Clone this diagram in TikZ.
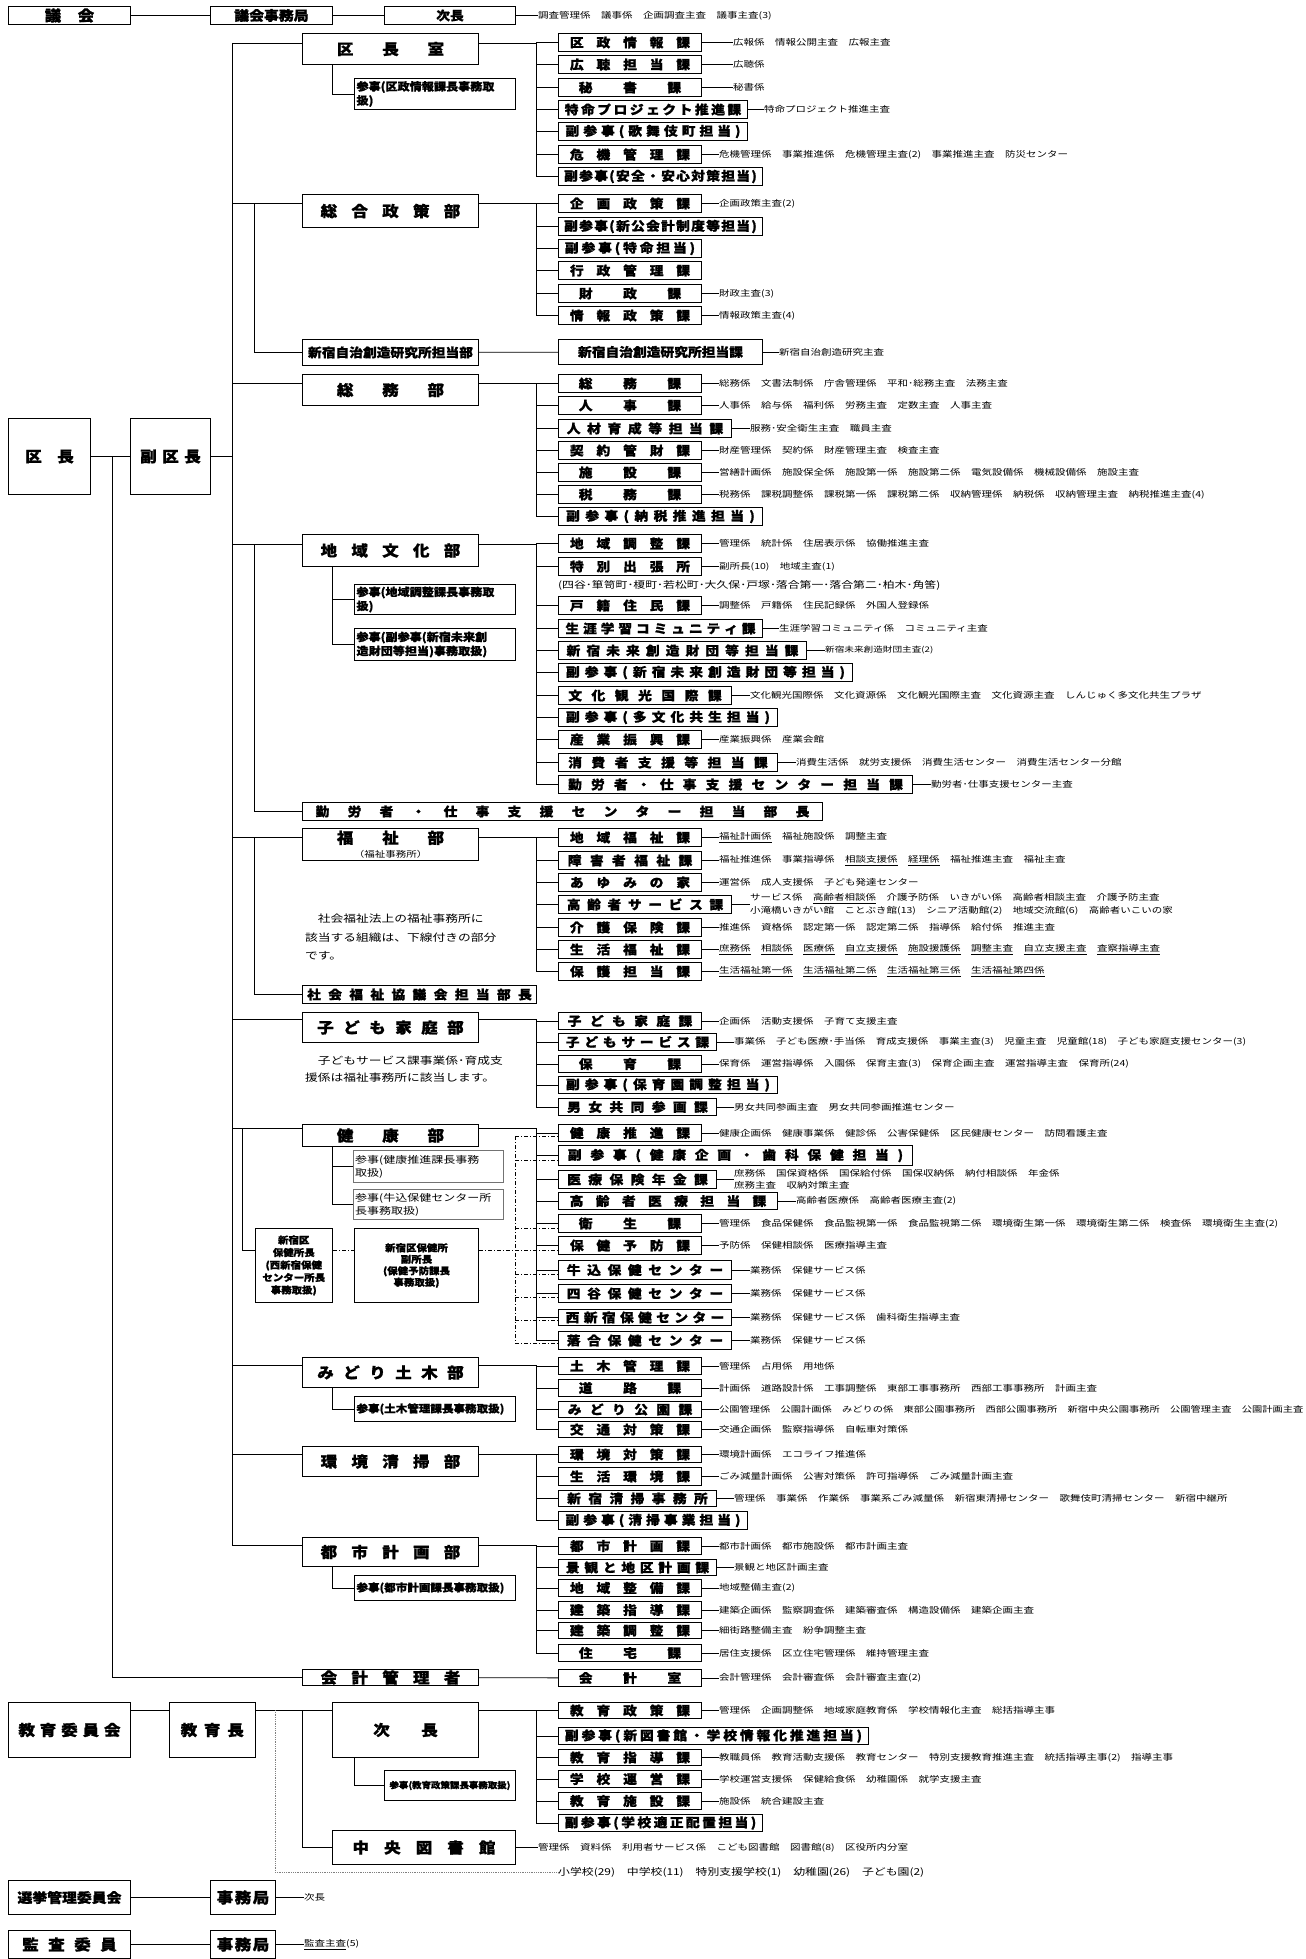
\documentclass[tikz,border=0pt]{standalone}
\usepackage{fontspec}
\setmainfont{Noto Sans CJK JP}[FakeStretch=1.25]
\newfontfamily\bfam{Noto Sans CJK JP}[FakeStretch=1.1, BoldFeatures={FakeBold=1.2}]
\usetikzlibrary{positioning}
\makeatletter
\newcommand\sprd[1]{\@tfor\sp@c:=#1\do{\hfil\sp@c\hfil}}
\makeatother
\newcommand\spr[2]{\hbox to #1pt{\sprd{#2}}}
\newcommand\fb[2]{\bfam\fontsize{#1}{#2}\selectfont\bfseries}
\newcommand\ls{\fontsize{8.4}{12.5}\selectfont}

\tikzset{
  ln/.style={line width=.8pt},
  bx/.style={draw, line width=1pt, anchor=north west, inner sep=0pt},
  sec/.style={bx, minimum width=143pt, minimum height=18pt, font=\fb{12.5}{13}},
  dept/.style={bx, minimum width=176pt, font=\fb{15}{16}},
  sanji/.style={bx, inner sep=2pt, text width=157pt, align=left, font=\fb{11}{14}},
  sanjig/.style={bx, draw=black!55, line width=1.4pt, inner sep=2pt, text width=146pt, align=left, font=\fontsize{9.6}{13}\selectfont},
  lst/.style={inner sep=0pt, font=\ls, align=left},
  dd/.style={line width=.7pt, dash pattern=on 4pt off 2pt on 1pt off 2pt},
}

\begin{document}
\begin{tikzpicture}[x=1pt,y=-1pt]
\useasboundingbox (0,0) rectangle (1306,1959);

% top row
\node[bx, minimum width=122pt, minimum height=18pt, font=\fb{15}{16}] (gikai) at (8,6) {\spr{66}{議会}};
\node[bx, minimum width=122pt, minimum height=18pt, font=\fb{13.5}{14}] (gjim) at (210,6) {議会事務局};
\node[bx, minimum width=131pt, minimum height=18pt, font=\fb{12.5}{13}] (gjicho) at (384,6) {次長};
\node[lst, right=22pt of gjicho] (gtxt) {調査管理係　議事係　企画調査主査　議事主査(3)};
\draw[ln] (gikai) -- (gjim) -- (gjicho) -- (gtxt);

% kucho, fukukucho
\node[bx, minimum width=82pt, minimum height=76pt, font=\fb{15}{16}] (kucho) at (8,418) {\spr{64}{区長}};
\node[bx, minimum width=80pt, minimum height=76pt, font=\fb{15}{16}] (fkucho) at (130,418) {\spr{66}{副区長}};
\coordinate (mtop) at (232,43);
\coordinate (mbot) at (232,1545);
\coordinate (kv) at (112,0);
\coordinate (vA) at (332,0);
\draw[ln] (kucho) -- (fkucho);
\draw[ln] (fkucho.east) -- (fkucho.east -| mtop);
\draw[ln] (mtop) -- (mbot);

% kuchoshitsu
\node[dept, minimum height=31pt] (dA) at (302,33) {\spr{136}{区長室}};
\node[sanji, minimum height=31pt] (sA) at (354,78) {参事(区政情報課長事務取\\扱)};
\node[sec] (kA1) at (558,33) {\spr{133}{区政情報課}};
\node[sec] (kA2) at (558,55) {\spr{133}{広聴担当課}};
\node[sec] (kA3) at (558,78) {\spr{133}{秘書課}};
\node[sec, minimum width=189pt] (kA4) at (558,100) {\spr{179}{特命プロジェクト推進課}};
\node[sec, minimum width=189pt] (kA5) at (558,122) {\spr{179}{副参事(歌舞伎町担当)}};
\node[sec] (kA6) at (558,145) {\spr{133}{危機管理課}};
\node[sec, minimum width=204pt] (kA7) at (558,167) {\spr{194}{副参事(安全・安心対策担当)}};
\node[lst, right=31pt of kA1] (tA1) {広報係　情報公開主査　広報主査};
\node[lst, right=31pt of kA2] (tA2) {広聴係};
\node[lst, right=31pt of kA3] (tA3) {秘書係};
\node[lst, right=16pt of kA4] (tA4) {特命プロジェクト推進主査};
\node[lst, right=17pt of kA6] (tA6) {危機管理係　事業推進係　危機管理主査(2)　事業推進主査　防災センター};
\coordinate (bA) at (536,43);
\draw[ln] (mtop) -- (dA.west |- mtop);
\draw[ln] (dA.east |- bA) -- (bA) |- (kA7.west);
\foreach \n in {1,...,6} \draw[ln] (bA |- kA\n.west) -- (kA\n.west);
\foreach \n in {1,2,3,4,6} \draw[ln] (kA\n) -- (tA\n);
\draw[ln] (dA.south -| vA) |- (sA.west);

% sogo seisaku
\node[dept, minimum height=33pt] (dB) at (302,194) {\spr{154}{総合政策部}};
\node[sec] (kB1) at (558,194) {\spr{133}{企画政策課}};
\node[sec, minimum width=204pt] (kB2) at (558,217) {\spr{194}{副参事(新公会計制度等担当)}};
\node[sec] (kB3) at (558,239) {\spr{133}{副参事(特命担当)}};
\node[sec] (kB4) at (558,261) {\spr{133}{行政管理課}};
\node[sec] (kB5) at (558,284) {\spr{133}{財政課}};
\node[sec] (kB6) at (558,306) {\spr{133}{情報政策課}};
\node[lst, right=17pt of kB1] (tB1) {企画政策主査(2)};
\node[lst, right=17pt of kB5] (tB5) {財政主査(3)};
\node[lst, right=17pt of kB6] (tB6) {情報政策主査(4)};
\coordinate (bB) at (536,203);
\coordinate (vB) at (254,203);
\draw[ln] (mtop |- bB) -- (dB.west |- bB);
\draw[ln] (dB.east |- bB) -- (bB) |- (kB6.west);
\foreach \n in {1,...,5} \draw[ln] (bB |- kB\n.west) -- (kB\n.west);
\foreach \n in {1,5,6} \draw[ln] (kB\n) -- (tB\n);

% kenkyujo
\node[dept, minimum height=26pt, font=\fb{12.5}{13}] (dC) at (302,339) {新宿自治創造研究所担当部};
\node[sec, minimum width=204pt, minimum height=25pt] (kC1) at (558,339) {新宿自治創造研究所担当課};
\node[lst, right=16pt of kC1] (tC1) {新宿自治創造研究主査};
\draw[ln] (vB) |- (dC.west);
\draw[ln] (dC) -- (kC1);
\draw[ln] (kC1) -- (tC1);

% somu
\node[dept, minimum height=31pt] (dD) at (302,374) {\spr{136}{総務部}};
\node[sec] (kD1) at (558,374) {\spr{133}{総務課}};
\node[sec] (kD2) at (558,396) {\spr{133}{人事課}};
\node[sec, minimum width=173pt] (kD3) at (558,419) {\spr{163}{人材育成等担当課}};
\node[sec] (kD4) at (558,441) {\spr{133}{契約管財課}};
\node[sec] (kD5) at (558,463) {\spr{133}{施設課}};
\node[sec] (kD6) at (558,485) {\spr{133}{税務課}};
\node[sec, minimum width=204pt] (kD7) at (558,507) {\spr{194}{副参事(納税推進担当)}};
\node[lst, right=17pt of kD1] (tD1) {総務係　文書法制係　庁舎管理係　平和･総務主査　法務主査};
\node[lst, right=17pt of kD2] (tD2) {人事係　給与係　福利係　労務主査　定数主査　人事主査};
\node[lst, right=18pt of kD3] (tD3) {服務･安全衛生主査　職員主査};
\node[lst, right=17pt of kD4] (tD4) {財産管理係　契約係　財産管理主査　検査主査};
\node[lst, right=17pt of kD5] (tD5) {営繕計画係　施設保全係　施設第一係　施設第二係　電気設備係　機械設備係　施設主査};
\node[lst, right=17pt of kD6] (tD6) {税務係　課税調整係　課税第一係　課税第二係　収納管理係　納税係　収納管理主査　納税推進主査(4)};
\coordinate (bD) at (536,383);
\draw[ln] (mtop |- bD) -- (dD.west |- bD);
\draw[ln] (dD.east |- bD) -- (bD) |- (kD7.west);
\foreach \n in {1,...,6} \draw[ln] (bD |- kD\n.west) -- (kD\n.west);
\foreach \n in {1,...,6} \draw[ln] (kD\n) -- (tD\n);

% chiiki bunka
\node[dept, minimum height=32pt] (dE) at (302,534) {\spr{154}{地域文化部}};
\node[sanji, minimum height=30pt] (sE1) at (354,584) {参事(地域調整課長事務取\\扱)};
\node[sanji, minimum height=32pt] (sE2) at (354,628) {参事(副参事(新宿未来創\\造財団等担当)事務取扱)};
\node[sec] (kE1) at (558,534) {\spr{133}{地域調整課}};
\node[sec] (kE2) at (558,557) {\spr{133}{特別出張所}};
\node[sec] (kE3) at (558,596) {\spr{133}{戸籍住民課}};
\node[sec, minimum width=204pt] (kE4) at (558,619) {\spr{194}{生涯学習コミュニティ課}};
\node[sec, minimum width=248pt] (kE5) at (558,641) {\spr{238}{新宿未来創造財団等担当課}};
\node[sec, minimum width=294pt] (kE6) at (558,663) {\spr{284}{副参事(新宿未来創造財団等担当)}};
\node[sec, minimum width=173pt] (kE7) at (558,686) {\spr{163}{文化観光国際課}};
\node[sec, minimum width=219pt] (kE8) at (558,708) {\spr{209}{副参事(多文化共生担当)}};
\node[sec] (kE9) at (558,730) {\spr{133}{産業振興課}};
\node[sec, minimum width=219pt] (kE10) at (558,753) {\spr{209}{消費者支援等担当課}};
\node[sec, minimum width=354pt] (kE11) at (558,775) {\spr{344}{勤労者・仕事支援センター担当課}};
\node[lst, right=17pt of kE1] (tE1) {管理係　統計係　住居表示係　協働推進主査};
\node[lst, right=17pt of kE2] (tE2) {副所長(10)　地域主査(1)};
\node[lst, anchor=west, font=\fontsize{9.5}{11}\selectfont] (tE2x) at (558,585) {(四谷･箪笥町･榎町･若松町･大久保･戸塚･落合第一･落合第二･柏木･角筈)};
\node[lst, right=17pt of kE3] (tE3) {調整係　戸籍係　住民記録係　外国人登録係};
\node[lst, right=16pt of kE4] (tE4) {生涯学習コミュニティ係　コミュニティ主査};
\node[lst, right=18pt of kE5, font=\fontsize{7.7}{9}\selectfont] (tE5) {新宿未来創造財団主査(2)};
\node[lst, right=18pt of kE7] (tE7) {文化観光国際係　文化資源係　文化観光国際主査　文化資源主査　しんじゅく多文化共生プラザ};
\node[lst, right=17pt of kE9] (tE9) {産業振興係　産業会館};
\node[lst, right=18pt of kE10] (tE10) {消費生活係　就労支援係　消費生活センター　消費生活センター分館};
\node[lst, right=18pt of kE11] (tE11) {勤労者･仕事支援センター主査};
\node[bx, minimum width=520pt, minimum height=18pt, font=\fb{12.5}{13}] (dF) at (302,802) {\spr{512}{勤労者・仕事支援センター担当部長}};
\coordinate (bE) at (536,544);
\coordinate (vE) at (254,544);
\draw[ln] (mtop |- bE) -- (dE.west |- bE);
\draw[ln] (dE.east |- bE) -- (bE) |- (kE11.west);
\foreach \n in {1,...,10} \draw[ln] (bE |- kE\n.west) -- (kE\n.west);
\foreach \n in {1,2,3,4,5,7,9,10,11} \draw[ln] (kE\n) -- (tE\n);
\draw[ln] (dE.south -| vA) |- (sE2.west);
\draw[ln] (sE1.west -| vA) -- (sE1.west);
\draw[ln] (vE) |- (dF.west);

% fukushi
\node[dept, minimum height=32pt, align=center] (dG) at (302,828) {\spr{136}{福祉部}\\[-2pt]{\ls\rmfamily\mdseries （福祉事務所）}};
\node[anchor=north west, inner sep=0pt, align=left, font=\fontsize{10.2}{18.5}\selectfont] (nG) at (305,914) {　社会福祉法上の福祉事務所に\\該当する組織は、下線付きの部分\\です。};
\node[sec] (kG1) at (558,828) {\spr{133}{地域福祉課}};
\node[sec] (kG2) at (558,851) {\spr{133}{障害者福祉課}};
\node[sec] (kG3) at (558,873) {\spr{133}{あゆみの家}};
\node[sec, minimum width=173pt] (kG4) at (558,895) {\spr{163}{高齢者サービス課}};
\node[sec] (kG5) at (558,918) {\spr{133}{介護保険課}};
\node[sec] (kG6) at (558,940) {\spr{133}{生活福祉課}};
\node[sec] (kG7) at (558,962) {\spr{133}{保護担当課}};
\node[lst, right=17pt of kG1] (tG1) {\underline{福祉計画係}　福祉施設係　調整主査};
\node[lst, right=17pt of kG2] (tG2) {福祉推進係　事業指導係　\underline{相談支援係}　\underline{経理係}　福祉推進主査　福祉主査};
\node[lst, right=17pt of kG3] (tG3) {運営係　成人支援係　子ども発達センター};
\node[lst, right=18pt of kG4] (tG4) {サービス係　\underline{高齢者相談係}　介護予防係　いきがい係　高齢者相談主査　介護予防主査\\小滝橋いきがい館　ことぶき館(13)　シニア活動館(2)　地域交流館(6)　高齢者いこいの家};
\node[lst, right=17pt of kG5] (tG5) {推進係　資格係　認定第一係　認定第二係　指導係　給付係　推進主査};
\node[lst, right=17pt of kG6] (tG6) {\underline{庶務係}　\underline{相談係}　\underline{医療係}　\underline{自立支援係}　\underline{施設援護係}　\underline{調整主査}　\underline{自立支援主査}　\underline{査察指導主査}};
\node[lst, right=17pt of kG7] (tG7) {\underline{生活福祉第一係}　\underline{生活福祉第二係}　\underline{生活福祉第三係}　\underline{生活福祉第四係}};
\node[bx, minimum width=234pt, minimum height=18pt, font=\fb{12.5}{13}] (dH) at (302,985) {\spr{232}{社会福祉協議会担当部長}};
\coordinate (bG) at (536,837);
\coordinate (vG) at (254,837);
\draw[ln] (mtop |- bG) -- (dG.west |- bG);
\draw[ln] (dG.east |- bG) -- (bG) |- (kG7.west);
\foreach \n in {1,...,6} \draw[ln] (bG |- kG\n.west) -- (kG\n.west);
\foreach \n in {1,...,7} \draw[ln] (kG\n) -- (tG\n);
\draw[ln] (vG) |- (dH.west);

% kodomo katei
\node[dept, minimum height=30pt] (dI) at (302,1012) {\spr{156}{子ども家庭部}};
\node[anchor=north west, inner sep=0pt, align=left, font=\fontsize{10.2}{17}\selectfont] (nI) at (305,1056) {　子どもサービス課事業係･育成支\\援係は福祉事務所に該当します。};
\node[sec, minimum height=17pt] (kI1) at (558,1012) {\spr{133}{子ども家庭課}};
\node[sec, minimum height=17pt, minimum width=158pt] (kI2) at (558,1033) {\spr{148}{子どもサービス課}};
\node[sec, minimum height=17pt] (kI3) at (558,1055) {\spr{133}{保育課}};
\node[sec, minimum height=17pt, minimum width=219pt] (kI4) at (558,1076) {\spr{209}{副参事(保育園調整担当)}};
\node[sec, minimum height=17pt, minimum width=158pt] (kI5) at (558,1098) {\spr{148}{男女共同参画課}};
\node[lst, right=17pt of kI1] (tI1) {企画係　活動支援係　子育て支援主査};
\node[lst, right=17pt of kI2] (tI2) {事業係　子ども医療･手当係　育成支援係　事業主査(3)　児童主査　児童館(18)　子ども家庭支援センター(3)};
\node[lst, right=17pt of kI3] (tI3) {保育係　運営指導係　入園係　保育主査(3)　保育企画主査　運営指導主査　保育所(24)};
\node[lst, right=17pt of kI5] (tI5) {男女共同参画主査　男女共同参画推進センター};
\coordinate (bI) at (536,1019);
\draw[ln] (mtop |- bI) -- (dI.west |- bI);
\draw[ln] (dI.east |- bI) -- (bI) |- (kI5.west);
\foreach \n in {1,...,4} \draw[ln] (bI |- kI\n.west) -- (kI\n.west);
\foreach \n in {1,2,3,5} \draw[ln] (kI\n) -- (tI\n);

% kenko
\node[dept, minimum height=22pt] (dJ) at (302,1124) {\spr{136}{健康部}};
\node[sanjig, minimum height=32pt] (sJ1) at (352.5,1150) {参事(健康推進課長事務\\取扱)};
\node[sanjig, minimum height=30pt] (sJ2) at (352.5,1189) {参事(牛込保健センター所\\長事務取扱)};
\node[bx, minimum width=77.5pt, minimum height=74pt, align=center, font=\fb{9.5}{12.5}] (hokencho) at (254.5,1228) {新宿区\\保健所長\\(西新宿保健\\センター所長\\事務取扱)};
\node[bx, minimum width=124pt, minimum height=74pt, align=center, font=\fb{9.5}{11.5}] (hokenfuku) at (354,1228) {新宿区保健所\\副所長\\(保健予防課長\\事務取扱)};
\node[sec, minimum height=17pt] (kJ1) at (558,1124) {\spr{133}{健康推進課}};
\node[sec, minimum height=20pt, minimum width=354pt] (kJ2) at (558,1145) {\spr{344}{副参事(健康企画・歯科保健担当)}};
\node[sec, minimum width=158pt] (kJ3) at (558,1170) {\spr{148}{医療保険年金課}};
\node[sec, minimum height=17pt, minimum width=219pt] (kJ4) at (558,1192) {\spr{209}{高齢者医療担当課}};
\node[sec] (kJ5) at (558,1214) {\spr{133}{衛生課}};
\node[sec] (kJ6) at (558,1236) {\spr{133}{保健予防課}};
\node[sec, minimum height=19pt, minimum width=173pt] (kJ7) at (558,1260) {\spr{163}{牛込保健センター}};
\node[sec, minimum width=173pt] (kJ8) at (558,1284) {\spr{163}{四谷保健センター}};
\node[sec, minimum height=16pt, minimum width=173pt] (kJ9) at (558,1309) {\spr{163}{西新宿保健センター}};
\node[sec, minimum width=173pt] (kJ10) at (558,1331) {\spr{163}{落合保健センター}};
\node[lst, right=17pt of kJ1] (tJ1) {健康企画係　健康事業係　健診係　公害保健係　区民健康センター　訪問看護主査};
\node[lst, right=17pt of kJ3, font=\fontsize{8.4}{12}\selectfont] (tJ3) {庶務係　国保資格係　国保給付係　国保収納係　納付相談係　年金係\\庶務主査　収納対策主査};
\node[lst, right=18pt of kJ4] (tJ4) {高齢者医療係　高齢者医療主査(2)};
\node[lst, right=17pt of kJ5] (tJ5) {管理係　食品保健係　食品監視第一係　食品監視第二係　環境衛生第一係　環境衛生第二係　検査係　環境衛生主査(2)};
\node[lst, right=17pt of kJ6] (tJ6) {予防係　保健相談係　医療指導主査};
\node[lst, right=18pt of kJ7] (tJ7) {業務係　保健サービス係};
\node[lst, right=18pt of kJ8] (tJ8) {業務係　保健サービス係};
\node[lst, right=18pt of kJ9] (tJ9) {業務係　保健サービス係　歯科衛生指導主査};
\node[lst, right=18pt of kJ10] (tJ10) {業務係　保健サービス係};
\coordinate (bJ) at (536,1128);
\coordinate (vJ) at (242.5,1128);
\draw[ln] (mtop |- bJ) -- (dJ.west |- bJ);
\draw[ln] (dJ.east |- bJ) -- (bJ) |- (kJ10.west);
\foreach \n in {1,...,9} \draw[ln] (bJ |- kJ\n.west) -- (kJ\n.west);
\foreach \n in {1,3,4,5,6,7,8,9,10} \draw[ln] (kJ\n) -- (tJ\n);
\draw[ln] (dJ.south -| vA) |- (sJ2.west);
\draw[ln] (sJ1.west -| vA) -- (sJ1.west);
\foreach \n/\y in {1/1136,2/1160,5/1228,6/1250,7/1274,8/1297,9/1320,10/1343} \coordinate (dt\n) at (515,\y);
\draw[dd] (dt1) -- (dt10);
\foreach \n in {1,2,5,6,7,8,9,10} \draw[dd] (dt\n) -- (dt\n -| kJ\n.west);
\draw[dd] (hokencho.east |- dt6) -- (hokenfuku.west |- dt6);
\draw[dd] (hokenfuku.east |- dt6) -- (dt6);
\draw[ln] (vJ) |- (hokencho.west |- dt6);

% midori doboku
\node[dept, minimum height=30pt] (dK) at (302,1357) {\spr{156}{みどり土木部}};
\node[sanji, minimum height=25pt, font=\fb{10.5}{12}] (sK) at (354,1396) {参事(土木管理課長事務取扱)};
\node[sec, minimum height=17pt] (kK1) at (558,1357) {\spr{133}{土木管理課}};
\node[sec, minimum height=17pt] (kK2) at (558,1379) {\spr{133}{道路課}};
\node[sec, minimum height=16pt] (kK3) at (558,1401) {\spr{133}{みどり公園課}};
\node[sec, minimum height=16pt] (kK4) at (558,1421) {\spr{133}{交通対策課}};
\node[lst, right=17pt of kK1] (tK1) {管理係　占用係　用地係};
\node[lst, right=17pt of kK2] (tK2) {計画係　道路設計係　工事調整係　東部工事事務所　西部工事事務所　計画主査};
\node[lst, right=17pt of kK3, font=\fontsize{8.2}{10}\selectfont] (tK3) {公園管理係　公園計画係　みどりの係　東部公園事務所　西部公園事務所　新宿中央公園事務所　公園管理主査　公園計画主査};
\node[lst, right=17pt of kK4] (tK4) {交通企画係　監察指導係　自転車対策係};
\coordinate (bK) at (536,1365);
\draw[ln] (mtop |- bK) -- (dK.west |- bK);
\draw[ln] (dK.east |- bK) -- (bK) |- (kK4.west);
\foreach \n in {1,...,3} \draw[ln] (bK |- kK\n.west) -- (kK\n.west);
\foreach \n in {1,...,4} \draw[ln] (kK\n) -- (tK\n);
\draw[ln] (dK.south -| vA) |- (sK.west);

% kankyo seiso
\node[dept, minimum height=30pt] (dL) at (302,1446) {\spr{154}{環境清掃部}};
\node[sec, minimum height=16pt] (kL1) at (558,1446) {\spr{133}{環境対策課}};
\node[sec] (kL2) at (558,1467) {\spr{133}{生活環境課}};
\node[sec, minimum height=16pt, minimum width=158pt] (kL3) at (558,1490) {\spr{148}{新宿清掃事務所}};
\node[sec, minimum width=189pt] (kL4) at (558,1511) {\spr{179}{副参事(清掃事業担当)}};
\node[lst, right=17pt of kL1] (tL1) {環境計画係　エコライフ推進係};
\node[lst, right=17pt of kL2] (tL2) {ごみ減量計画係　公害対策係　許可指導係　ごみ減量計画主査};
\node[lst, right=17pt of kL3] (tL3) {管理係　事業係　作業係　事業系ごみ減量係　新宿東清掃センター　歌舞伎町清掃センター　新宿中継所};
\coordinate (bL) at (536,1454);
\draw[ln] (mtop |- bL) -- (dL.west |- bL);
\draw[ln] (dL.east |- bL) -- (bL) |- (kL4.west);
\foreach \n in {1,...,3} \draw[ln] (bL |- kL\n.west) -- (kL\n.west);
\foreach \n in {1,...,3} \draw[ln] (kL\n) -- (tL\n);

% toshi keikaku
\node[dept, minimum height=29pt] (dM) at (302,1537) {\spr{154}{都市計画部}};
\node[sanji, minimum height=25pt, font=\fb{10.5}{12}] (sM) at (354,1575) {参事(都市計画課長事務取扱)};
\node[sec, minimum height=17pt] (kM1) at (558,1537) {\spr{133}{都市計画課}};
\node[sec, minimum height=16pt, minimum width=158pt] (kM2) at (558,1559) {\spr{148}{景観と地区計画課}};
\node[sec, minimum height=17pt] (kM3) at (558,1579) {\spr{133}{地域整備課}};
\node[sec, minimum height=17pt] (kM4) at (558,1601) {\spr{133}{建築指導課}};
\node[sec, minimum height=16pt] (kM5) at (558,1622) {\spr{133}{建築調整課}};
\node[sec, minimum height=17pt] (kM6) at (558,1644) {\spr{133}{住宅課}};
\node[lst, right=17pt of kM1] (tM1) {都市計画係　都市施設係　都市計画主査};
\node[lst, right=17pt of kM2] (tM2) {景観と地区計画主査};
\node[lst, right=17pt of kM3] (tM3) {地域整備主査(2)};
\node[lst, right=17pt of kM4] (tM4) {建築企画係　監察調査係　建築審査係　構造設備係　建築企画主査};
\node[lst, right=17pt of kM5] (tM5) {細街路整備主査　紛争調整主査};
\node[lst, right=17pt of kM6] (tM6) {居住支援係　区立住宅管理係　維持管理主査};
\coordinate (bM) at (536,1545);
\draw[ln] (mbot) -- (dM.west |- mbot);
\draw[ln] (dM.east |- bM) -- (bM) |- (kM6.west);
\foreach \n in {1,...,5} \draw[ln] (bM |- kM\n.west) -- (kM\n.west);
\foreach \n in {1,...,6} \draw[ln] (kM\n) -- (tM\n);
\draw[ln] (dM.south -| vA) |- (sM.west);

% kaikei
\node[dept, minimum height=16pt] (dN) at (302,1669) {\spr{154}{会計管理者}};
\node[sec, minimum height=17pt] (kN1) at (558,1669) {\spr{133}{会計室}};
\node[lst, right=17pt of kN1] (tN1) {会計管理係　会計審査係　会計審査主査(2)};
\draw[ln] (kucho.east -| kv) |- (dN.west);
\draw[ln] (dN) -- (kN1);
\draw[ln] (kN1) -- (tN1);

% kyoiku
\node[bx, minimum width=122pt, minimum height=55pt, font=\fb{15}{16}] (kyoi) at (8,1702) {\spr{107}{教育委員会}};
\node[bx, minimum width=85.5pt, minimum height=55pt, font=\fb{15}{16}] (kyocho) at (169,1702) {\spr{70}{教育長}};
\node[bx, minimum width=146pt, minimum height=55pt, font=\fb{15}{16}] (jichoE) at (332,1702) {\spr{96}{次長}};
\node[bx, minimum width=131pt, minimum height=30pt, font=\fb{8.6}{10}] (sO) at (384,1770) {参事(教育政策課長事務取扱)};
\node[bx, minimum width=183pt, minimum height=34pt, font=\fb{15}{16}] (lib) at (332,1830) {\spr{158}{中央図書館}};
\node[lst, right=22pt of lib] (tLib) {管理係　資料係　利用者サービス係　こども図書館　図書館(8)　区役所内分室};
\node[lst, anchor=west, font=\fontsize{9.5}{11}\selectfont] (tSch) at (558,1872) {小学校(29)　中学校(11)　特別支援学校(1)　幼稚園(26)　子ども園(2)};
\node[sec, minimum height=16pt] (kO1) at (558,1702) {\spr{133}{教育政策課}};
\node[sec, minimum height=17pt, minimum width=310pt] (kO2) at (558,1727) {\spr{300}{副参事(新図書館・学校情報化推進担当)}};
\node[sec, minimum height=16pt] (kO3) at (558,1749) {\spr{133}{教育指導課}};
\node[sec, minimum height=17pt] (kO4) at (558,1770) {\spr{133}{学校運営課}};
\node[sec, minimum height=17pt] (kO5) at (558,1792) {\spr{133}{教育施設課}};
\node[sec, minimum height=17pt, minimum width=204pt] (kO6) at (558,1814) {\spr{194}{副参事(学校適正配置担当)}};
\node[lst, right=17pt of kO1] (tO1) {管理係　企画調整係　地域家庭教育係　学校情報化主査　総括指導主事};
\node[lst, right=17pt of kO3] (tO3) {教職員係　教育活動支援係　教育センター　特別支援教育推進主査　統括指導主事(2)　指導主事};
\node[lst, right=17pt of kO4] (tO4) {学校運営支援係　保健給食係　幼稚園係　就学支援主査};
\node[lst, right=17pt of kO5] (tO5) {施設係　統合建設主査};
\coordinate (eL) at (302,1710);
\coordinate (eD) at (275,1710);
\coordinate (bO) at (536,1710);
\coordinate (vO) at (354,0);
\draw[ln] (kyoi.east |- eL) -- (kyocho.west |- eL);
\draw[ln] (kyocho.east |- eL) -- (jichoE.west |- eL);
\draw[ln] (eL) |- (lib.west);
\draw[ln] (jichoE.east |- bO) -- (bO) |- (kO6.west);
\foreach \n in {1,...,5} \draw[ln] (bO |- kO\n.west) -- (kO\n.west);
\foreach \n in {1,3,4,5} \draw[ln] (kO\n) -- (tO\n);
\draw[ln] (jichoE.south -| vO) |- (sO.west);
\draw[ln] (lib) -- (tLib);
\draw[gray, densely dotted, line width=.8pt] (eD) |- (tSch.west);

% senkyo, kansa
\node[bx, minimum width=122pt, minimum height=34pt, font=\fb{13.5}{14}] (senkyo) at (8,1880) {選挙管理委員会};
\node[bx, minimum width=65pt, minimum height=34pt, font=\fb{15}{16}] (sjim) at (210,1880) {\spr{54}{事務局}};
\node[lst, right=28pt of sjim] (tS) {次長};
\node[bx, minimum width=122pt, minimum height=28pt, font=\fb{15}{16}] (kansa) at (8,1930) {\spr{104}{監査委員}};
\node[bx, minimum width=65pt, minimum height=28pt, font=\fb{15}{16}] (kjim) at (210,1930) {\spr{54}{事務局}};
\node[lst, right=28pt of kjim] (tK) {\underline{監査主査}(5)};
\draw[ln] (senkyo) -- (sjim) -- (tS);
\draw[ln] (kansa) -- (kjim) -- (tK);
\end{tikzpicture}
\end{document}
